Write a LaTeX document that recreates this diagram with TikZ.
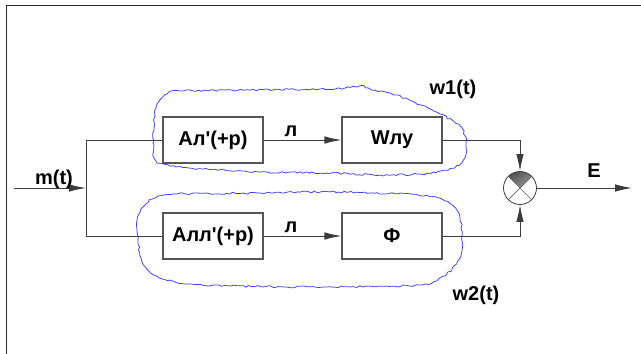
\documentclass[tikz,border=0pt]{standalone}
\usepackage{fontspec}
\setmainfont{Liberation Sans}[Ligatures=TeXOff]
\usetikzlibrary{arrows.meta,decorations.pathmorphing,calc}
\definecolor{wire}{HTML}{3C3C3C}
\definecolor{boxline}{HTML}{555555}
\definecolor{cloudblue}{HTML}{3C3CF5}
\definecolor{framecol}{HTML}{2A2A2A}
\begin{document}
\begin{tikzpicture}[x=1pt,y=-1pt,
  font=\bfseries\fontsize{20}{23}\selectfont,
  block/.style={draw=boxline, line width=1.2pt, minimum width=100pt,
    minimum height=46pt, inner sep=0pt},
  sig/.style={draw=wire, line width=0.9pt},
  tip/.style={-{Latex[length=17pt,width=7.5pt,fill=wire]}},
  cloudline/.style={draw=cloudblue, line width=0.75pt, line join=round,
    decoration={random steps, segment length=3pt, amplitude=1.05pt},
    decorate},
  lbl/.style={inner sep=0pt}]
\pgfmathsetseed{11}
\useasboundingbox (0,0) rectangle (641,354);

% outer frame (left and top edges)
\draw[framecol, line width=1.6pt] (6.5,354) -- (6.5,5.5) -- (641,5.5);

% blocks
\node[block] (b1) at (213,140) {Ал'(+р)};
\node[block] (b2) at (392,140) {Wлу};
\node[block] (b3) at (213,236) {Алл'(+р)};
\node[block] (b4) at (392,236) {Ф};

% summing junction with shaded upper sector
\coordinate (sc) at (520,188);
\begin{scope}
  \clip (sc) circle[radius=16.5];
  \shade[top color=black!85, bottom color=black!35, shading angle=35]
    (sc) -- ++(-26,-26) -- ++(52,0) -- cycle;
\end{scope}
\node[circle, draw=wire, line width=0.8pt, minimum size=33pt, inner sep=0pt] (sum) at (sc) {};
\draw[wire!80, line width=0.7pt] (sum.45) -- (sum.225) (sum.135) -- (sum.315);

% signal lines
\coordinate (in) at (14,188);
\coordinate (split) at (86,188);
\coordinate (out) at (632,188);
\draw[sig, tip] (in) -- (split);
\draw[sig] (split) |- (b1.west);
\draw[sig] (split) |- (b3.west);
\draw[sig, tip] (b1.east) -- (b2.west);
\draw[sig, tip] (b3.east) -- (b4.west);
\draw[sig, tip] (b2.east) -| (sum.north);
\draw[sig, tip] (b4.east) -| (sum.south);
\draw[sig, tip] (sum.east) -- (out);

% labels
\node[lbl] (lm) at (54,179) {m(t)};
\node[lbl] (l1) at (291,131) {л};
\node[lbl] (l2) at (291,227) {л};
\node[lbl] (le) at (594,171) {E};
\node[lbl] (lw1) at (453,89) {w1(t)};
\node[lbl] (lw2) at (476,295) {w2(t)};

% freehand outlines around the two channels
\draw[cloudline] plot[smooth cycle, tension=0.55] coordinates {
  (153,143) (156,108) (165,95) (180,91) (250,90) (320,89) (345,88)
  (360,86) (375,90) (392,94) (412,101) (440,114) (460,126) (466,142)
  (463,160) (448,170) (420,174) (380,175) (327,173) (260,172) (204,169)
  (170,166) (156,160)};
\draw[cloudline] plot[smooth cycle, tension=0.55] coordinates {
  (137,229) (141,209) (153,199) (176,194) (258,193) (338,192) (418,195)
  (445,201) (459,214) (462,236) (459,259) (444,276) (419,285) (327,287)
  (231,286) (185,284) (157,276) (142,261)};
\end{tikzpicture}
\end{document}
